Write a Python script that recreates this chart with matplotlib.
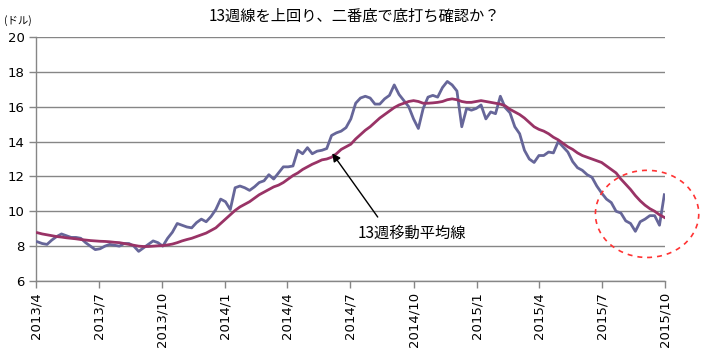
import numpy as np
import pandas as pd
import matplotlib
matplotlib.use("Agg")
import matplotlib.pyplot as plt
import matplotlib.dates as mdates
from matplotlib.patches import Ellipse

plt.rcParams['font.family'] = ['Noto Sans CJK JP', 'DejaVu Sans']

# Weekly closing price (USD)
price = [
    8.25, 8.15, 8.1, 8.35, 8.55, 8.7, 8.6, 8.5, 8.5, 8.45,
    8.2, 8.0, 7.8, 7.85, 8.0, 8.1, 8.05, 8.0, 8.15, 8.15,
    8.0, 7.7, 7.9, 8.1, 8.3, 8.2, 8.0, 8.45, 8.8, 9.3,
    9.2, 9.1, 9.05, 9.35, 9.55, 9.4, 9.7, 10.1, 10.7, 10.55,
    10.1, 11.35, 11.45, 11.35, 11.2, 11.4, 11.65, 11.75, 12.1, 11.85,
    12.2, 12.55, 12.55, 12.6, 13.5, 13.3, 13.65, 13.3, 13.45, 13.5,
    13.6, 14.35, 14.5, 14.6, 14.8, 15.3, 16.2, 16.5, 16.6, 16.5,
    16.15, 16.15, 16.45, 16.65, 17.25, 16.7, 16.35, 16.0, 15.3, 14.75,
    15.9, 16.55, 16.65, 16.55, 17.1, 17.45, 17.25, 16.9, 14.85, 15.9,
    15.8, 15.9, 16.1, 15.3, 15.7, 15.6, 16.6, 15.95, 15.65, 14.85,
    14.45, 13.5, 13.0, 12.8, 13.2, 13.2, 13.4, 13.35, 14.0, 13.7,
    13.4, 12.85, 12.5, 12.35, 12.1, 11.95, 11.45, 11.05, 10.7, 10.5,
    10.0, 9.9, 9.45, 9.3, 8.85, 9.4, 9.55, 9.75, 9.75, 9.2,
    10.95,
]

# 13-week moving average
ma13 = [
    8.77, 8.7, 8.65, 8.6, 8.55, 8.52, 8.48, 8.45, 8.42, 8.38,
    8.35, 8.32, 8.3, 8.28, 8.27, 8.25, 8.22, 8.2, 8.15, 8.1,
    8.05, 8.0, 7.98, 7.98, 8.0, 8.02, 8.03, 8.07, 8.12, 8.2,
    8.3, 8.38, 8.45, 8.55, 8.65, 8.75, 8.9, 9.05, 9.3, 9.55,
    9.8, 10.05, 10.25, 10.4, 10.55, 10.75, 10.95, 11.1, 11.25, 11.4,
    11.5, 11.65, 11.85, 12.05, 12.2, 12.4, 12.55, 12.7, 12.82, 12.95,
    13.0, 13.1, 13.3, 13.55, 13.7, 13.85, 14.15, 14.4, 14.65, 14.85,
    15.1, 15.35, 15.55, 15.75, 15.95, 16.1, 16.2, 16.3, 16.35, 16.3,
    16.2, 16.2, 16.22, 16.25, 16.3, 16.4, 16.45, 16.4, 16.3, 16.25,
    16.25, 16.3, 16.35, 16.3, 16.25, 16.2, 16.15, 16.05, 15.85, 15.7,
    15.55, 15.35, 15.1, 14.85, 14.7, 14.6, 14.45, 14.25, 14.1, 13.9,
    13.7, 13.55, 13.35, 13.2, 13.1, 13.0, 12.9, 12.8, 12.6, 12.4,
    12.2, 11.85, 11.55, 11.25, 10.9, 10.6, 10.35, 10.15, 10.0, 9.8,
    9.65,
]

dates = pd.date_range("2013-04-03", periods=len(price), freq="7D")

tick_dates = pd.to_datetime([
    "2013-04-01", "2013-07-01", "2013-10-01", "2014-01-01", "2014-04-01",
    "2014-07-01", "2014-10-01", "2015-01-01", "2015-04-01", "2015-07-01",
    "2015-10-01",
])
tick_labels = ["2013/4", "2013/7", "2013/10", "2014/1", "2014/4", "2014/7",
               "2014/10", "2015/1", "2015/4", "2015/7", "2015/10"]
y_ticks = [6, 8, 10, 12, 14, 16, 18, 20]

title = "13週線を上回り、二番底で底打ち確認か？"
unit_label = "(ドル)"
ma_label = "13週移動平均線"

grid_c = "#868686"
price_c = "#666699"
ma_c = "#993366"

fig = plt.figure(figsize=(7.06, 3.5), dpi=100)
ax = fig.add_axes([36 / 706, 1 - 281 / 350, 629 / 706, 244 / 350])

ax.plot(dates, price, color=price_c, lw=2.0, solid_joinstyle="round", zorder=3)
ax.plot(dates, ma13, color=ma_c, lw=2.0, solid_joinstyle="round", zorder=4)

ax.set_xlim(tick_dates[0], tick_dates[-1])
ax.set_ylim(6, 20)
ax.set_yticks(y_ticks)
ax.set_yticklabels([str(v) for v in y_ticks], fontsize=9.5, family="DejaVu Sans")
ax.set_xticks(tick_dates)
ax.set_xticklabels(tick_labels, rotation=90, fontsize=9.5, family="DejaVu Sans")

ax.grid(axis="y", color=grid_c, lw=1.0, zorder=1)
ax.set_axisbelow(True)
for s in ["top", "right"]:
    ax.spines[s].set_visible(False)
for s in ["left", "bottom"]:
    ax.spines[s].set_color(grid_c)
    ax.spines[s].set_linewidth(1.0)
ax.tick_params(axis="both", direction="out", length=5, width=1.0,
               color=grid_c, labelcolor="black", pad=3)

# Arrow pointing at the moving-average line
ax.annotate("", xy=(mdates.date2num(pd.Timestamp("2014-06-05")), 13.33),
            xytext=(mdates.date2num(pd.Timestamp("2014-08-10")), 9.67),
            arrowprops=dict(arrowstyle="-|>", color="black", lw=1.0,
                            mutation_scale=12, shrinkA=0, shrinkB=0),
            zorder=6)
ax.text(mdates.date2num(pd.Timestamp("2014-07-12")), 8.75, ma_label,
        fontsize=11, ha="left", va="center", zorder=6)

# Dashed circle around the recent bottom
ell = Ellipse((mdates.date2num(pd.Timestamp("2015-09-05")), 9.85),
              width=150, height=5.0, fill=False, ec="#ff3333", lw=1.2,
              ls=(0, (3, 3)), clip_on=False, zorder=5)
ax.add_patch(ell)

fig.text(354 / 706, 1 - 16 / 350, title, fontsize=11, ha="center", va="center")
fig.text(4 / 706, 1 - 21 / 350, unit_label, fontsize=7.5, ha="left", va="center")

fig.savefig("out.png", dpi=100)
